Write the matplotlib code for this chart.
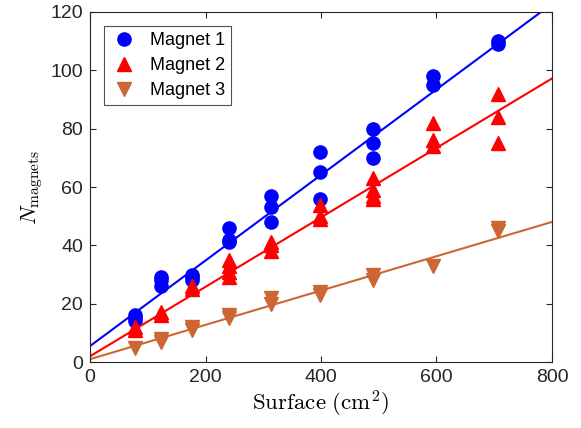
import matplotlib
matplotlib.use("Agg")
import numpy as np
import matplotlib.pyplot as plt

# surface of each disc (cm^2)
surface = [78.5, 122.7, 176.7, 240.5, 314.2, 397.6, 490.9, 594.0, 706.9]

# counts read per surface, several trials each
magnet1 = [[16, 15, 14], [29, 28, 26], [30, 29, 28], [46, 42, 41], [57, 53, 48],
           [72, 65, 56], [80, 75, 70], [98, 95], [110, 109]]
magnet2 = [[12, 11], [17, 16], [26, 25], [35, 33, 31, 29], [41, 40, 38],
           [54, 50, 49], [63, 59, 57, 56], [82, 76, 74], [92, 84, 75]]
magnet3 = [[5], [8, 7], [12, 11], [16, 15], [22, 20], [24, 23], [30, 28],
           [33], [46, 45]]

# linear fits (slope, intercept)
fit_slope = [0.1466, 0.1190, 0.0588]
fit_icept = [5.5, 2.0, 1.0]

labels = ["Magnet 1", "Magnet 2", "Magnet 3"]
colors = ["#0000FF", "#FF0000", "#CC6633"]
markers = ["o", "^", "v"]

plt.rcParams["font.family"] = ["Liberation Sans", "DejaVu Sans"]
plt.rcParams["mathtext.fontset"] = "cm"

fig = plt.figure(figsize=(5.81, 4.28), dpi=100)
ax = fig.add_axes([0.155, 0.154, 0.795, 0.818])

xfit = np.array([0, 800])
for data, c, m, lab, k, b in zip([magnet1, magnet2, magnet3], colors, markers,
                                 labels, fit_slope, fit_icept):
    xs = [s for s, grp in zip(surface, data) for _ in grp]
    ys = [v for grp in data for v in grp]
    ax.plot(xs, ys, linestyle="none", marker=m, color=c, markersize=9.5,
            label=lab)
    ax.plot(xfit, k * xfit + b, color=c, lw=1.5)

ax.set_xlim(0, 800)
ax.set_ylim(0, 120)
ax.set_xticks([0, 200, 400, 600, 800])
ax.set_yticks([0, 20, 40, 60, 80, 100, 120])
ax.tick_params(direction="in", top=True, right=True, labelsize=14,
               length=4, width=0.8, colors="#262626", pad=5)
for sp in ax.spines.values():
    sp.set_color("#262626")
    sp.set_linewidth(0.8)

ax.set_xlabel(r"$\mathrm{Surface\ (cm^2)}$", fontsize=16.5, labelpad=2)
ax.set_ylabel(r"$N_{\mathrm{magnets}}$", fontsize=16, labelpad=4)

leg = ax.legend(loc="upper left", fontsize=13, frameon=True, fancybox=False,
                edgecolor="#262626", borderaxespad=0.75, handletextpad=0.6,
                labelspacing=0.45, borderpad=0.35, handlelength=1.6)
leg.get_frame().set_linewidth(0.8)

fig.savefig("out.png", dpi=100)
